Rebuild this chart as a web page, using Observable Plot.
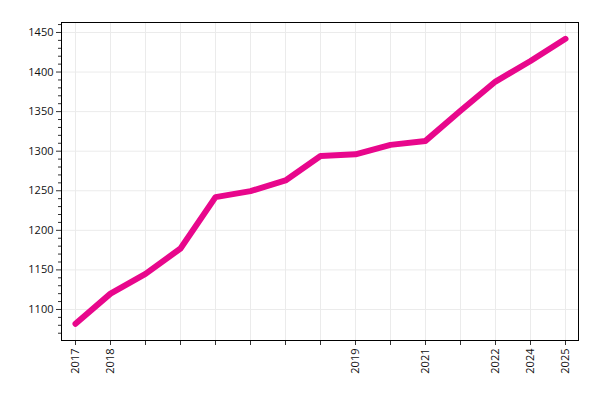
<!DOCTYPE html>
<html>
<head>
<meta charset="utf-8">
<script src="https://cdn.jsdelivr.net/npm/d3@7"></script>
<script src="https://cdn.jsdelivr.net/npm/@observablehq/plot@0.6"></script>
<style>
  html, body { margin: 0; padding: 0; background: #fff; }
</style>
</head>
<body>
<div id="chart"></div>
<script>
const xLabels = ["2017", "2018", "", "", "", "", "", "", "2019", "", "2021", "", "2022", "2024", "2025"];
const values = [1082, 1120, 1145, 1177, 1242, 1249.5, 1263, 1294, 1296, 1308, 1313, 1351, 1388, 1414, 1442];
const yMajorTicks = [1100, 1150, 1200, 1250, 1300, 1350, 1400, 1450];
const yMinorTicks = d3.range(1070, 1461, 10).filter(v => v % 50 !== 0);

const idx = xLabels.map((_, i) => i);

const chart = Plot.plot({
  width: 600,
  height: 400,
  marginLeft: 61,
  marginRight: 22,
  marginTop: 22,
  marginBottom: 60,
  style: { fontFamily: "'Open Sans', sans-serif", fontSize: "11px", color: "#111", background: "#fff" },
  x: { type: "point", domain: idx, padding: 0.37 },
  y: { domain: [1060.8, 1462.6] },
  marks: [
    Plot.gridX(idx, { stroke: "#ebebeb", strokeOpacity: 1 }),
    Plot.gridY(yMajorTicks, { stroke: "#ebebeb", strokeOpacity: 1 }),
    Plot.axisY({ ticks: yMajorTicks, tickFormat: d => String(d), tickSize: 5, tickPadding: 3, label: null, stroke: "#333" }),
    Plot.axisY({ ticks: yMinorTicks, tickSize: 3, text: null, label: null, stroke: "#333" }),
    Plot.axisX({ ticks: idx, tickFormat: i => xLabels[i], tickRotate: -90, tickSize: 5, tickPadding: 3, label: null, stroke: "#333" }),
    Plot.frame({ stroke: "#000" }),
    Plot.line(idx, {
      x: i => i,
      y: i => values[i],
      stroke: "#e8078c",
      strokeWidth: 6,
      strokeLinecap: "round",
      strokeLinejoin: "round"
    })
  ]
});
document.getElementById("chart").appendChild(chart);
</script>
</body>
</html>
